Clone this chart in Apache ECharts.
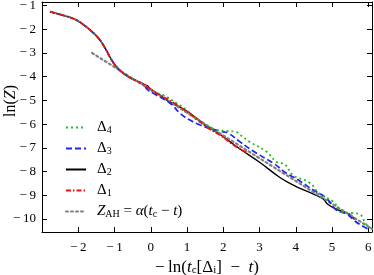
<!DOCTYPE html>
<html>
<head>
<meta charset="utf-8">
<script src="https://cdn.jsdelivr.net/npm/echarts@6/dist/echarts.min.js"></script>
<style>
  html, body { margin: 0; padding: 0; background: #fff; }
  #chart { width: 374px; height: 275px; }
</style>
</head>
<body>
<div id="chart"></div>
<script>
// shared early part of all curves (they coincide before x ~ -0.2)
const headX = [-2.78, -2.49, -2.12, -1.89, -1.66, -1.43, -1.25, -1.11, -0.98, -0.82, -0.6, -0.43, -0.2]
const headY = [-1.26, -1.38, -1.56, -1.77, -2.05, -2.4, -2.82, -3.22, -3.52, -3.78, -4.02, -4.15, -4.32]

// Δ4 (green dotted)
const d4X = [0.08, 0.35, 0.72, 0.99, 1.27, 1.54, 1.82, 2.09, 2.37, 2.46, 2.73, 3.19, 3.47, 3.7, 3.92, 4.38, 4.66, 5.02, 5.3, 5.57, 5.76, 5.94, 6.1]
const d4Y = [-4.64, -4.78, -5.13, -5.41, -5.83, -6.08, -6.25, -6.29, -6.34, -6.45, -6.75, -7.16, -7.6, -7.7, -8.15, -8.47, -8.95, -9.26, -9.72, -9.75, -9.8, -10.22, -10.42]

// Δ3 (blue dashed)
const d3X = [-0.1, 0.08, 0.54, 0.81, 1.08, 1.36, 1.91, 2.14, 2.46, 2.92, 3.38, 3.74, 4.06, 4.47, 4.84, 5.11, 5.43, 5.62, 5.85, 6.03]
const d3Y = [-4.54, -4.71, -5.13, -5.55, -5.83, -6.04, -6.3, -6.39, -6.75, -7.23, -7.65, -8.07, -8.35, -8.77, -9.12, -9.61, -9.82, -10.08, -10.31, -10.45]

// Δ2 (black solid)
const d2X = [-0.1, 0.0, 0.26, 0.45, 0.99, 1.45, 1.91, 2.18, 2.46, 3.01, 3.56, 3.97, 4.38, 4.75, 4.88, 5.11, 5.48, 5.62]
const d2Y = [-4.38, -4.52, -4.78, -5.0, -5.45, -5.97, -6.44, -6.74, -7.05, -7.62, -8.25, -8.6, -8.88, -9.15, -9.38, -9.58, -9.8, -10.03]

// Δ1 (red dash-dot)
const d1X = [-0.1, 0.1, 0.63, 1.18, 1.63, 1.91, 2.3, 2.69]
const d1Y = [-4.42, -4.65, -5.1, -5.69, -6.22, -6.46, -6.9, -7.23]

// Z_AH = α(t_c - t), grey dotted straight line
const ahX = [-1.62, 6.1]
const ahY = [-3.0, -10.42]

const xTicks = [-2, -1, 0, 1, 2, 3, 4, 5, 6]
const yTicks = [-10, -9, -8, -7, -6, -5, -4, -3, -2, -1]

const FONT = 'Liberation Serif'

const pairs = (xs, ys) => xs.map((x, i) => [x, ys[i]])
const withHead = (xs, ys) => pairs(headX.concat(xs), headY.concat(ys))

const minus = v => (v < 0 ? '\u2212\u2009' + Math.abs(v) : String(v))

// 轴标题用的富文本
const nameRich = {
    i: { fontFamily: FONT, fontStyle: 'italic', fontSize: 17, color: '#000' },
    s: { fontFamily: FONT, fontSize: 11, color: '#000', verticalAlign: 'bottom', lineHeight: 10 },
    n: { fontFamily: FONT, fontSize: 17, color: '#000' }
}
const yNameRich = {
    i: { fontFamily: FONT, fontStyle: 'italic', fontSize: 16, color: '#000' },
    n: { fontFamily: FONT, fontSize: 16, color: '#000' }
}
// 图例用的富文本
const legendRich = {
    i: { fontFamily: FONT, fontStyle: 'italic', fontSize: 15, color: '#000' },
    s: { fontFamily: FONT, fontSize: 10, color: '#000', verticalAlign: 'bottom', lineHeight: 9 },
    n: { fontFamily: FONT, fontSize: 15, color: '#000' }
}

const legendText = {
    'D4': '{n|Δ}{s|4}',
    'D3': '{n|Δ}{s|3}',
    'D2': '{n|Δ}{s|2}',
    'D1': '{n|Δ}{s|1}',
    'ZAH': '{i|Z}{s|AH}{n| = }{i|α}{n|(}{i|t}{s|c}{n| \u2212 }{i|t}{n|)}'
}

const chart = echarts.init(document.getElementById('chart'))

const axisCommon = {
    type: 'value',
    axisLine: { show: true, onZero: false, lineStyle: { color: '#000', width: 1 } },
    axisTick: { show: true, inside: true, length: 5, lineStyle: { color: '#000' } },
    splitLine: { show: false }
}

const option = {
    animation: false,
    backgroundColor: '#fff',
    grid: { left: 42, right: 2, top: 2, bottom: 43, containLabel: false, outerBoundsMode: 'none' },
    xAxis: [
        Object.assign({}, axisCommon, {
            min: -3, max: 6.1, splitNumber: 9,
            position: 'bottom',
            axisLabel: {
                margin: 9, fontFamily: FONT, fontSize: 13, color: '#000',
                formatter: v => (xTicks.includes(v) ? minus(v) : '')
            },
            name: '{n|\u2212\u2009ln(}{i|t}{s|c}{n|[Δ}{s|i}{n|]\u2002\u2212\u2002}{i|t}{n|)}',
            nameLocation: 'middle',
            nameGap: 20,
            nameTextStyle: { rich: nameRich }
        }),
        Object.assign({}, axisCommon, {
            min: -3, max: 6.1, splitNumber: 9,
            position: 'top',
            axisLabel: { show: false }
        })
    ],
    yAxis: [
        Object.assign({}, axisCommon, {
            min: -10.55, max: -0.85, splitNumber: 10,
            position: 'left',
            axisLabel: {
                margin: 6, fontFamily: FONT, fontSize: 13, color: '#000',
                formatter: v => (yTicks.includes(v) ? minus(v) : '')
            }
        }),
        Object.assign({}, axisCommon, {
            min: -10.55, max: -0.85, splitNumber: 10,
            position: 'right',
            axisLabel: { show: false }
        })
    ],
    graphic: [{
        type: 'text',
        x: 11, y: 101,
        rotation: Math.PI / 2,
        style: {
            text: '{n|ln(}{i|Z}{n|)}',
            rich: yNameRich,
            align: 'center',
            verticalAlign: 'middle'
        }
    }],
    legend: {
        orient: 'vertical',
        left: 60, top: 115,
        itemWidth: 20, itemHeight: 10, itemGap: 6,
        itemStyle: { opacity: 0 },
        data: ['D4', 'D3', 'D2', 'D1', 'ZAH'],
        formatter: name => legendText[name],
        textStyle: { padding: [0, 0, 0, 6], rich: legendRich }
    },
    series: [
        {
            name: 'D2', type: 'line', data: withHead(d2X, d2Y),
            showSymbol: false, symbol: 'none', smooth: 0.45,
            color: '#000',
            lineStyle: { color: '#000', width: 1.4, type: 'solid' }
        },
        {
            name: 'ZAH', type: 'line', data: pairs(ahX, ahY),
            showSymbol: false, symbol: 'none',
            color: '#808080',
            lineStyle: { color: '#808080', width: 2.2, type: [2, 3], cap: 'round' }
        },
        {
            name: 'D3', type: 'line', data: withHead(d3X, d3Y),
            showSymbol: false, symbol: 'none', smooth: 0.45,
            color: '#2323f0',
            lineStyle: { color: '#2323f0', width: 1.7, type: [6, 3] }
        },
        {
            name: 'D4', type: 'line', data: withHead(d4X, d4Y),
            showSymbol: false, symbol: 'none', smooth: 0.45,
            color: '#22bb22',
            lineStyle: { color: '#22bb22', width: 1.8, type: [2, 3] }
        },
        {
            name: 'D1', type: 'line', data: withHead(d1X, d1Y),
            showSymbol: false, symbol: 'none', smooth: 0.45,
            color: '#ee1111',
            lineStyle: { color: '#ee1111', width: 1.8, type: [5, 2, 1.5, 2] }
        }
    ]
}

chart.setOption(option)
</script>
</body>
</html>
